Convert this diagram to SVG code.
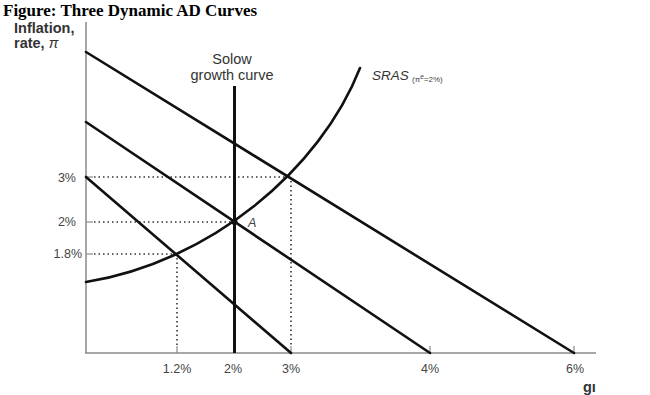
<svg xmlns="http://www.w3.org/2000/svg" width="650" height="395" viewBox="0 0 650 395">
<style>
.ax{stroke:#8a8a8a;stroke-width:1.5;fill:none}
.tk{stroke:#8a8a8a;stroke-width:1.2}
.ln{stroke:#111;stroke-width:2.6;fill:none;stroke-linecap:round}
.dot{stroke:#333;stroke-width:1.6;stroke-dasharray:1.5 3;fill:none}
.lbl{font-family:"Liberation Sans",Arial,sans-serif;font-size:12.5px;fill:#444}
.ttl{font-family:"Liberation Serif","Times New Roman",serif;font-size:17px;font-weight:bold;fill:#000}
.axl{font-family:"Liberation Sans",Arial,sans-serif;font-size:14.5px;font-weight:bold;fill:#333}
.sol{font-family:"Liberation Sans",Arial,sans-serif;font-size:14.5px;fill:#333}
</style>
<rect width="650" height="395" fill="#fff"/>
<text class="ttl" x="3" y="16">Figure: Three Dynamic AD Curves</text>
<text class="axl" x="14" y="33">Inflation,</text>
<text class="axl" x="14" y="48">rate, <tspan font-weight="normal" font-style="italic">π</tspan></text>
<g id="axes">
<line class="ax" x1="86" y1="22" x2="86" y2="353"/>
<line class="ax" x1="85" y1="353" x2="596" y2="353"/>
<line class="tk" x1="86" y1="177" x2="93" y2="177"/>
<line class="tk" x1="86" y1="222" x2="93" y2="222"/>
<line class="tk" x1="86" y1="254" x2="93" y2="254"/>
<line class="tk" x1="177" y1="346" x2="177" y2="353"/>
<line class="tk" x1="291" y1="346" x2="291" y2="353"/>
<line class="tk" x1="430" y1="346" x2="430" y2="353"/>
<line class="tk" x1="574" y1="346" x2="574" y2="353"/>
<text class="lbl" x="76" y="182" text-anchor="end">3%</text>
<text class="lbl" x="76" y="226" text-anchor="end">2%</text>
<text class="lbl" x="82" y="258" text-anchor="end">1.8%</text>
<text class="lbl" x="177" y="373" text-anchor="middle">1.2%</text>
<text class="lbl" x="233" y="373" text-anchor="middle">2%</text>
<text class="lbl" x="291" y="373" text-anchor="middle">3%</text>
<text class="lbl" x="430" y="373" text-anchor="middle">4%</text>
<text class="lbl" x="575" y="373" text-anchor="middle">6%</text>
<text class="axl" x="583" y="392">gı</text>
</g>
<g id="guides">
<line class="dot" x1="94" y1="177" x2="289" y2="177"/>
<line class="dot" x1="291" y1="181" x2="291" y2="345"/>
<line class="dot" x1="94" y1="222" x2="232" y2="222"/>
<line class="dot" x1="94" y1="254" x2="175" y2="254"/>
<line class="dot" x1="177" y1="258" x2="177" y2="345"/>
</g>
<g id="solow">
<line class="ln" x1="234.5" y1="86" x2="234.5" y2="353" style="stroke-width:3;stroke-linecap:butt"/>
<text class="sol" x="232" y="64" text-anchor="middle">Solow</text>
<text class="sol" x="232" y="80" text-anchor="middle">growth curve</text>
</g>
<g id="connectors">
<line class="ln" x1="86" y1="52" x2="574" y2="353"/>
<line class="ln" x1="86" y1="122" x2="430" y2="353"/>
<line class="ln" x1="86" y1="177" x2="291" y2="353"/>
</g>
<g id="sras">
<path class="ln" d="M86,282 C210,262 320,170 360,68"/>
<text x="372" y="80" style="font-family:'Liberation Sans',Arial,sans-serif;font-size:13.5px;font-style:italic;fill:#333">SRAS</text>
<text x="412" y="82" style="font-family:'Liberation Sans',Arial,sans-serif;font-size:8px;fill:#444">(π<tspan dy="-3" font-size="6.5">e</tspan><tspan dy="3">=2%)</tspan></text>
</g>
<g id="pointA">
<circle cx="234.5" cy="222" r="3" fill="#111"/>
<text x="248" y="227" style="font-family:'Liberation Sans',Arial,sans-serif;font-size:12.5px;font-style:italic;fill:#444">A</text>
</g>
</svg>
